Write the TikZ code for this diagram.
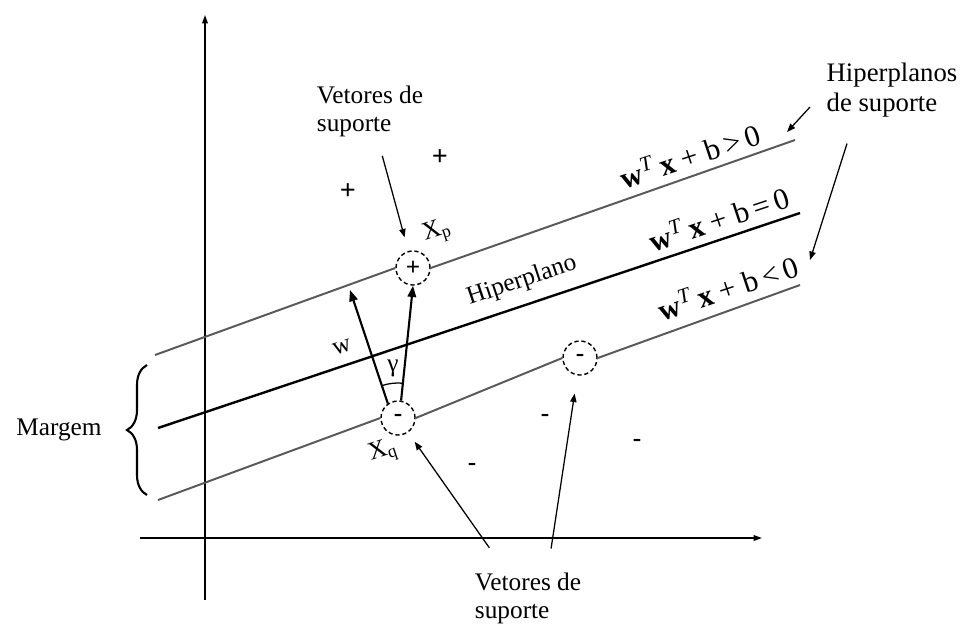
\documentclass[tikz,border=0pt]{standalone}
\usepackage{fontspec}
\setmainfont{Liberation Serif}
\usetikzlibrary{arrows.meta,positioning,calc,decorations.pathreplacing}

\begin{document}
\begin{tikzpicture}[
    x=0.025cm, y=-0.025cm,
    >={Triangle[length=8pt,width=6pt]},
    lbl/.style={font=\fontsize{18}{20}\selectfont, align=left, inner sep=1pt},
    eq/.style={font=\fontsize{21.5}{24}\selectfont, rotate=18.5, inner sep=0pt},
    sv/.style={circle, draw, dash pattern=on 3pt off 2pt, line width=1pt, minimum size=0.85cm, inner sep=0pt, font=\fontsize{18}{20}\selectfont},
    plane/.style={draw=black!65, line width=1.4pt},
    midplane/.style={draw=black, line width=1.7pt},
    ptr/.style={->, >={Triangle[length=6pt,width=4.5pt]}, line width=0.9pt},
    vec/.style={->, line width=1.5pt},
    axis/.style={->, line width=1.1pt, >={Triangle[length=6pt,width=4pt]}}
]
\useasboundingbox (0,0) rectangle (964,626);

% eixos
\coordinate (yb) at (205,600);
\coordinate (yt) at (205,15);
\coordinate (xl) at (140,538);
\coordinate (xr) at (762,538);
\draw[axis] (yb) -- (yt);
\draw[axis] (xl) -- (xr);

% vetores de suporte
\node[sv] (sp) at (413,268) {\textbf{+}};
\node[sv] (sq) at (398,418) {\textbf{-}};
\node[sv] (sr) at (580,358) {\textbf{-}};

% hiperplanos
\coordinate (u0) at (155,355);
\coordinate (u1) at (795,140);
\coordinate (m0) at (158,428);
\coordinate (m1) at (800,213);
\coordinate (l0) at (158,500);
\coordinate (l1) at (800,285);
\draw[plane] (u0) -- (sp.west);
\draw[plane] (sp.east) -- (u1);
\draw[midplane] (m0) -- (m1);
\draw[plane] (l0) -- (sq.west);
\draw[plane] (sq.east) -- (sr.west);
\draw[plane] (sr.east) -- (l1);

% pontos
\node[lbl, font=\fontsize{20}{20}\selectfont] (p1) at (348,192) {\textbf{+}};
\node[lbl, font=\fontsize{20}{20}\selectfont] (p2) at (440,158) {\textbf{+}};
\node[lbl] (n1) at (545,418) {\textbf{-}};
\node[lbl] (n2) at (637,443) {\textbf{-}};
\node[lbl] (n3) at (472,467) {\textbf{-}};

% vetores w e x_p - x_q
\coordinate (wt) at (350,290);
\coordinate (ang) at (398,433);
\draw[vec] (sq.125) -- (wt);
\draw[vec] (sq.80) -- (sp.south);
\draw[line width=0.9pt] ($(ang)+(84:1.25cm)$) arc[start angle=84, end angle=108, radius=1.25cm];
\node[lbl] (gam) at (393,368) {γ};
\node[lbl, rotate=18] (wl) at (342,347) {w};
\node[lbl, rotate=18] (xp) at (437,232) {X\textsubscript{p}};
\node[lbl, rotate=18] (xq) at (383,452) {X\textsubscript{q}};

% textos
\node[lbl, rotate=18.5] (hp) at (522,281) {Hiperplano};
\node[eq] (e1) at (690,155) {\textbf{w}\textsuperscript{\textit{T}}\,\textbf{x} + b\,>\,0};
\node[eq] (e2) at (719,218) {\textbf{w}\textsuperscript{\textit{T}}\,\textbf{x} + b\,=\,0};
\node[eq] (e3) at (728,287) {\textbf{w}\textsuperscript{\textit{T}}\,\textbf{x} + b\,<\,0};
\node[lbl] (tvs) at (370,111) {Vetores de\\suporte};
\node[lbl] (bvs) at (528,598) {Vetores de\\suporte};
\node[lbl, anchor=west, font=\fontsize{19}{21}\selectfont] (hs) at (825,90) {Hiperplanos\\de suporte};
\node[lbl] (mg) at (59,430) {Margem};

% setas
\draw[ptr, shorten <=13pt, shorten >=10pt] (tvs) -- (sp);
\draw[ptr, shorten <=20pt, shorten >=8pt] ([xshift=-16pt]bvs.north) -- (sq);
\draw[ptr, shorten <=16pt, shorten >=13pt] ([xshift=14pt]bvs.north) -- (sr);
\draw[ptr] ([shift={(-15,17)}]hs.west) -- ([shift={(-8,-8)}]u1);
\draw[ptr] ([shift={(22,25)}]hs.south west) -- ([shift={(10,-25)}]l1);

% margem
\draw[line width=1.5pt, decorate, decoration={brace, amplitude=0.5cm}] (147,495) -- (147,365);

\end{tikzpicture}
\end{document}
